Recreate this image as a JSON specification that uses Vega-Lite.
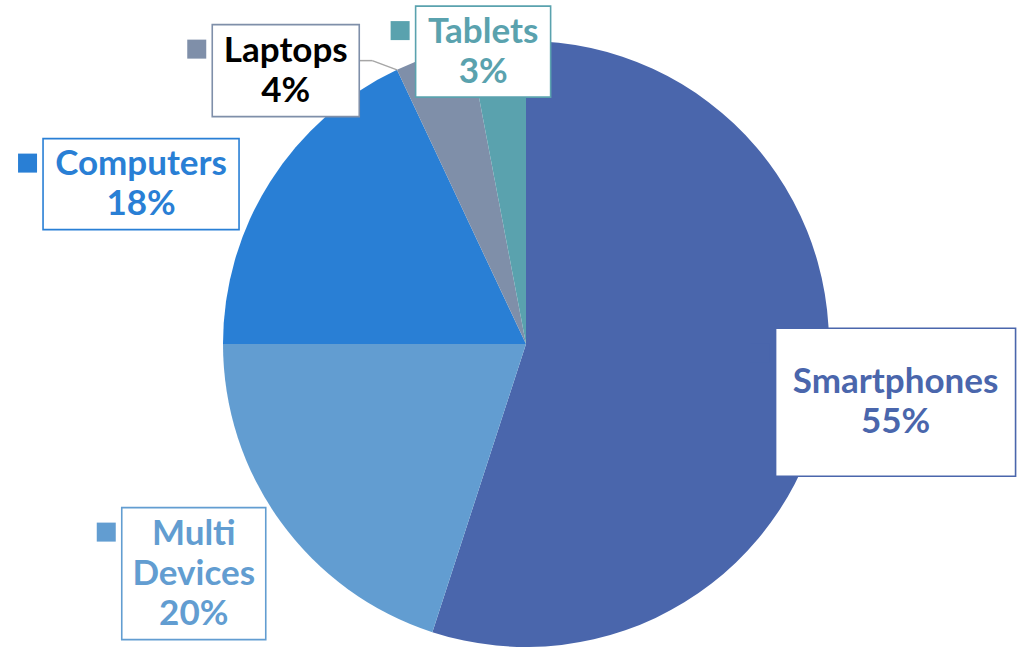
{
  "$schema": "https://vega.github.io/schema/vega-lite/v6.json",
  "width": 988,
  "height": 608,
  "autosize": "none",
  "padding": {"left": 32, "top": 40, "right": 0, "bottom": 0},
  "background": "#ffffff",
  "config": {"view": {"stroke": null}},
  "params": [
    {
      "name": "labelLayout",
      "value": {
        "Smartphones": {"dx": 14, "dy": 2, "w": 240, "h": 148},
        "Multi Devices": {"dx": -41, "dy": 18, "w": 144, "h": 132},
        "Computers": {"dx": -81, "dy": 33, "w": 196, "h": 91},
        "Laptops": {"dx": -129, "dy": 69, "w": 147, "h": 92},
        "Tablets": {"dx": -9, "dy": 66, "w": 135, "h": 91}
      }
    }
  ],
  "data": {
    "values": [
      {"category": "Smartphones", "value": 55},
      {"category": "Multi Devices", "value": 20},
      {"category": "Computers", "value": 18},
      {"category": "Laptops", "value": 4},
      {"category": "Tablets", "value": 3}
    ]
  },
  "transform": [
    {"joinaggregate": [{"op": "sum", "field": "value", "as": "total"}]},
    {"stack": "value", "groupby": [], "sort": [{"field": "value", "order": "descending"}], "as": ["s0", "s1"]},
    {"calculate": "PI * (datum.s0 + datum.s1) / datum.total", "as": "mid"},
    {"calculate": "360 * sin(datum.mid) + labelLayout[datum.category].dx", "as": "cx"},
    {"calculate": "-360 * cos(datum.mid) + labelLayout[datum.category].dy", "as": "cy"},
    {"calculate": "datum.cx - labelLayout[datum.category].w / 2", "as": "bx0"},
    {"calculate": "datum.cx + labelLayout[datum.category].w / 2", "as": "bx1"},
    {"calculate": "datum.cy - labelLayout[datum.category].h / 2", "as": "by0"},
    {"calculate": "datum.cy + labelLayout[datum.category].h / 2", "as": "by1"},
    {"calculate": "datum.bx0 - 25", "as": "kx0"},
    {"calculate": "datum.bx0 - 6", "as": "kx1"},
    {"calculate": "datum.by0 + 15", "as": "ky0"},
    {"calculate": "datum.by0 + 34", "as": "ky1"},
    {"calculate": "datum.category + ' ' + format(datum.value / datum.total, '.0%')", "as": "label"},
    {"calculate": "datum.cy - (split(datum.label, ' ').length - 1) * 20", "as": "ty"},
    {"calculate": "datum.bx1 + 13", "as": "lx1"},
    {"calculate": "datum.cy - 10", "as": "ly"},
    {"calculate": "303 * sin(2 * PI * datum.s0 / datum.total)", "as": "ex"},
    {"calculate": "-303 * cos(2 * PI * datum.s0 / datum.total)", "as": "ey"}
  ],
  "layer": [
    {
      "mark": {"type": "arc", "outerRadius": 303},
      "encoding": {
        "theta": {"field": "value", "type": "quantitative", "stack": true},
        "order": {"field": "value", "type": "quantitative", "sort": "descending"},
        "color": {
          "field": "category",
          "type": "nominal",
          "scale": {
            "domain": ["Smartphones", "Multi Devices", "Computers", "Laptops", "Tablets"],
            "range": ["#4A66AC", "#629DD1", "#297FD5", "#7F8FA9", "#5AA2AE"]
          },
          "legend": null
        }
      }
    },
    {
      "transform": [{"filter": "datum.category === 'Laptops'"}],
      "mark": {"type": "rule", "color": "#a6a6a6", "strokeWidth": 1.5},
      "encoding": {
        "x": {"field": "bx1", "type": "quantitative", "scale": {"domain": [-494, 494], "nice": false, "zero": false}, "axis": null},
        "x2": {"field": "lx1"},
        "y": {"field": "ly", "type": "quantitative", "scale": {"domain": [-304, 304], "nice": false, "zero": false, "reverse": true}, "axis": null},
        "y2": {"field": "ly"}
      }
    },
    {
      "transform": [{"filter": "datum.category === 'Laptops'"}],
      "mark": {"type": "rule", "color": "#a6a6a6", "strokeWidth": 1.5},
      "encoding": {
        "x": {"field": "lx1", "type": "quantitative"},
        "x2": {"field": "ex"},
        "y": {"field": "ly", "type": "quantitative"},
        "y2": {"field": "ey"}
      }
    },
    {
      "mark": {"type": "rect", "fill": "#ffffff", "strokeWidth": 1.6},
      "encoding": {
        "x": {"field": "bx0", "type": "quantitative"},
        "x2": {"field": "bx1"},
        "y": {"field": "by0", "type": "quantitative"},
        "y2": {"field": "by1"},
        "stroke": {
          "field": "category",
          "type": "nominal",
          "scale": {
            "domain": ["Smartphones", "Multi Devices", "Computers", "Laptops", "Tablets"],
            "range": ["#4A66AC", "#629DD1", "#297FD5", "#7F8FA9", "#5AA2AE"]
          },
          "legend": null
        }
      }
    },
    {
      "mark": {"type": "rect"},
      "encoding": {
        "x": {"field": "kx0", "type": "quantitative"},
        "x2": {"field": "kx1"},
        "y": {"field": "ky0", "type": "quantitative"},
        "y2": {"field": "ky1"},
        "color": {"field": "category", "type": "nominal", "legend": null}
      }
    },
    {
      "mark": {
        "type": "text",
        "font": "Lato",
        "fontWeight": "bold",
        "fontSize": 35,
        "lineBreak": " ",
        "lineHeight": 40,
        "align": "center",
        "baseline": "middle"
      },
      "encoding": {
        "x": {"field": "cx", "type": "quantitative"},
        "y": {"field": "ty", "type": "quantitative"},
        "text": {"field": "label", "type": "nominal"},
        "color": {
          "condition": {"test": "datum.category === 'Laptops'", "value": "#000000"},
          "field": "category",
          "type": "nominal",
          "legend": null
        }
      }
    }
  ]
}
